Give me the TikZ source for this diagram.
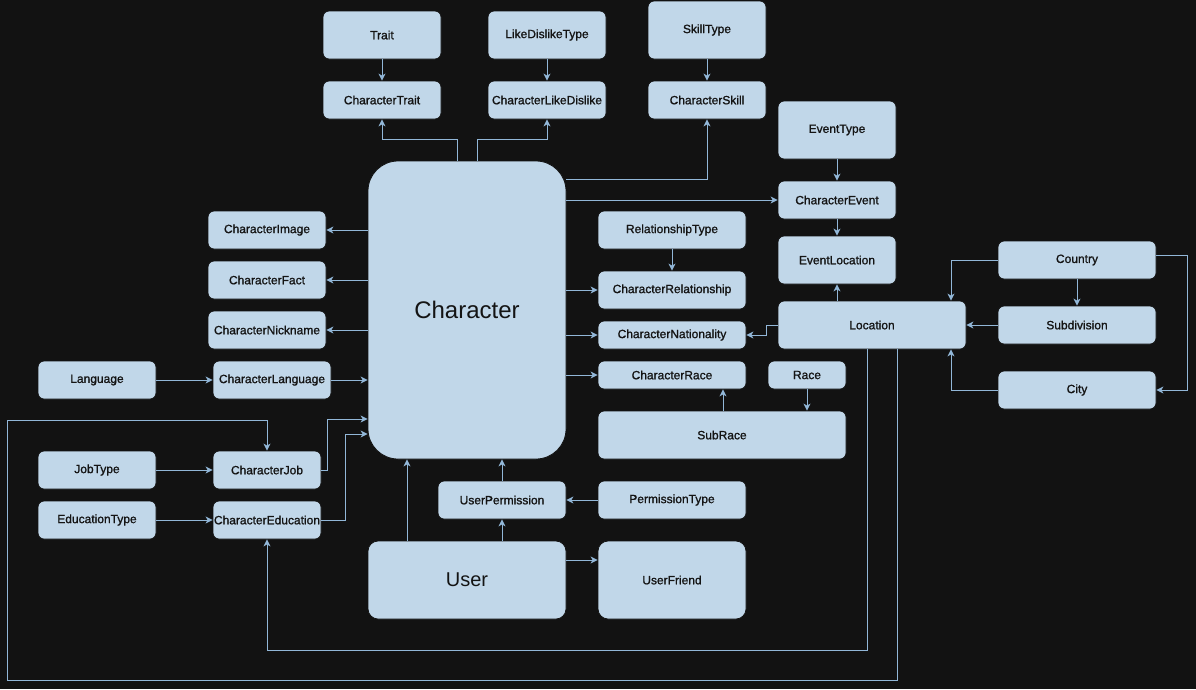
\documentclass[tikz,border=0pt]{standalone}
\usepackage{fontspec}
\setmainfont{Liberation Sans}
\newfontfamily\lblfont{Liberation Sans}[FakeBold=1.2]
\usetikzlibrary{arrows.meta}
\definecolor{bgc}{HTML}{121212}
\definecolor{boxc}{HTML}{C1D7E9}
\definecolor{linec}{HTML}{92B7D8}
\definecolor{txtc}{HTML}{141414}
\tikzset{
  box/.style={fill=boxc, draw=bgc, line width=0.8pt, rounded corners=6pt, inner sep=0pt,
    text=txtc, font=\lblfont\fontsize{12}{14}\selectfont, align=center},
  bigbox/.style={box, rounded corners=30pt, font=\fontsize{24}{28}\selectfont},
  userbox/.style={box, rounded corners=10pt},
  arr/.style={draw=linec, line width=1pt, -{Stealth[length=7pt,width=7pt,inset=2pt]}},
}
\newcommand{\bx}[6][box]{\node[#1, minimum width=#4pt, minimum height=#5pt] (#2) at (#3) {#6};}
\begin{document}
\begin{tikzpicture}[x=1pt,y=-1pt]
\fill[bgc] (0,0) rectangle (1196,689);
\useasboundingbox (0,0) rectangle (1196,689);
% nodes
\bx{Trait}{382,35}{118}{48}{Trait}
\bx{LikeDislikeType}{547,35}{118}{48}{LikeDislikeType}
\bx{SkillType}{707,30}{118}{58}{SkillType}
\bx{CharacterTrait}{382,100}{118}{38}{CharacterTrait}
\bx{CharacterLikeDislike}{547,100}{118}{38}{CharacterLikeDislike}
\bx{CharacterSkill}{707,100}{118}{38}{CharacterSkill}
\bx{EventType}{837,130}{118}{58}{EventType}
\bx{CharacterEvent}{837,200}{118}{38}{CharacterEvent}
\bx{EventLocation}{837,260}{118}{48}{EventLocation}
\bx[bigbox]{Character}{467,310}{198}{298}{Character}
\bx{CharacterImage}{267,230}{118}{38}{CharacterImage}
\bx{CharacterFact}{267,280}{118}{38}{CharacterFact}
\bx{CharacterNickname}{267,330}{118}{38}{CharacterNickname}
\bx{CharacterLanguage}{272,380}{118}{38}{CharacterLanguage}
\bx{Language}{97,380}{118}{38}{Language}
\bx{RelationshipType}{672,230}{148}{38}{RelationshipType}
\bx{CharacterRelationship}{672,290}{148}{38}{CharacterRelationship}
\bx{CharacterNationality}{672,335}{148}{28}{CharacterNationality}
\bx{CharacterRace}{672,375}{148}{28}{CharacterRace}
\bx{Race}{807,375}{78}{28}{Race}
\bx{SubRace}{722,435}{248}{48}{SubRace}
\bx{Location}{872,325}{188}{48}{Location}
\bx{Country}{1077,260}{158}{38}{Country}
\bx{Subdivision}{1077,325}{158}{38}{Subdivision}
\bx{City}{1077,390}{158}{38}{City}
\bx{JobType}{97,470}{118}{38}{JobType}
\bx{EducationType}{97,520}{118}{38}{EducationType}
\bx{CharacterJob}{267,470}{108}{38}{CharacterJob}
\bx{CharacterEducation}{267,520}{108}{38}{CharacterEducation}
\bx{UserPermission}{502,500}{128}{38}{UserPermission}
\bx{PermissionType}{672,500}{148}{38}{PermissionType}
\node[userbox, minimum width=198pt, minimum height=78pt, font=\fontsize{20}{24}\selectfont] (User) at (467,580) {User};
\bx[userbox]{UserFriend}{672,580}{148}{78}{UserFriend}
% loop coordinates
\coordinate (loopB) at (7,680);
\coordinate (loopT) at (7,420);
% connectors
\draw[arr] (Trait) -- (CharacterTrait);
\draw[arr] (LikeDislikeType) -- (CharacterLikeDislike);
\draw[arr] (SkillType) -- (CharacterSkill);
\draw[arr] ([xshift=-10pt]Character.north) -- ++(0,-21) -| (CharacterTrait.south);
\draw[arr] ([xshift=10pt]Character.north) -- ++(0,-21) -| (CharacterLikeDislike.south);
\draw[arr] ([yshift=131pt]Character.east) -| (CharacterSkill.south);
\draw[arr] (Character.east |- CharacterEvent.west) -- (CharacterEvent.west);
\draw[arr] (EventType) -- (CharacterEvent);
\draw[arr] (CharacterEvent) -- (EventLocation);
\draw[arr] (EventLocation.south |- Location.north) -- (EventLocation.south);
\draw[arr] (Location.west) -- ++(-11,0) |- (CharacterNationality.east);
\draw[arr] (Character.east |- CharacterRelationship.west) -- (CharacterRelationship.west);
\draw[arr] (RelationshipType) -- (CharacterRelationship);
\draw[arr] (Character.east |- CharacterNationality.west) -- (CharacterNationality.west);
\draw[arr] (Character.east |- CharacterRace.west) -- (CharacterRace.west);
\draw[arr] (Race.south) -- (Race.south |- SubRace.north);
\draw[arr] ([xshift=1pt]SubRace.north) -- ([xshift=1pt]SubRace.north |- CharacterRace.south);
\draw[arr] (Character.west |- CharacterImage.east) -- (CharacterImage.east);
\draw[arr] (Character.west |- CharacterFact.east) -- (CharacterFact.east);
\draw[arr] (Character.west |- CharacterNickname.east) -- (CharacterNickname.east);
\draw[arr] (Language) -- (CharacterLanguage);
\draw[arr] (CharacterLanguage.east) -- (Character.west |- CharacterLanguage.east);
\draw[arr] (CharacterJob.east) -- ++(6,0) |- ([yshift=-109pt]Character.west);
\draw[arr] (CharacterEducation.east) -- ++(24,0) |- ([yshift=-124pt]Character.west);
\draw[arr] (JobType) -- (CharacterJob);
\draw[arr] (EducationType) -- (CharacterEducation);
\draw[arr] ([xshift=25pt]Location.south) |- (loopB) -- (loopT) -| (CharacterJob.north);
\draw[arr] ([xshift=-5pt]Location.south) -- ++(0,301) -| (CharacterEducation.south);
\draw[arr] (Country.west) -| ([xshift=79pt]Location.north);
\draw[arr] (City.west) -| ([xshift=79pt]Location.south);
\draw[arr] (Subdivision) -- (Location);
\draw[arr] (Country) -- (Subdivision);
\draw[arr] ([yshift=5pt]Country.east) -- ++(31,0) |- (City.east);
\draw[arr] ([xshift=-60pt]User.north) -- ([xshift=-60pt]Character.south);
\draw[arr] (UserPermission.south |- User.north) -- (UserPermission.south);
\draw[arr] (UserPermission.north) -- (UserPermission.north |- Character.south);
\draw[arr] (PermissionType) -- (UserPermission);
\draw[arr] ([yshift=20pt]User.east) -- ([yshift=20pt]User.east -| UserFriend.west);
\end{tikzpicture}
\end{document}
